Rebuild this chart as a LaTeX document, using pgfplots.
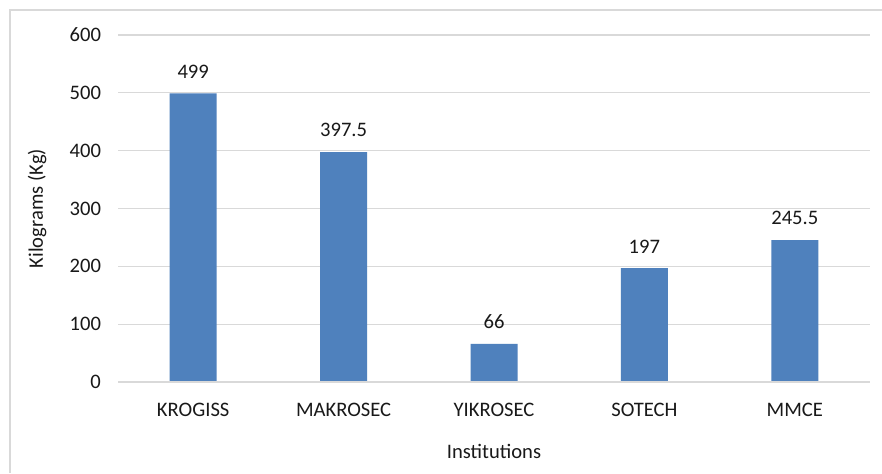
\documentclass[border=0pt]{standalone}
\usepackage{pgfplots}
\pgfplotsset{compat=1.18}
\usepackage{fontspec}
\setmainfont{Carlito}
\definecolor{barblue}{HTML}{4F81BD}
\definecolor{gridgray}{HTML}{D9D9D9}
\definecolor{framegray}{HTML}{D9D9D9}
\begin{document}
\begin{tikzpicture}[x=0.5pt,y=0.5pt]
\useasboundingbox (0,0) rectangle (882,473);
\fill[white] (0,0) rectangle (882,473);
\draw[framegray,line width=0.6pt] (10,0) -- (10,463) -- (882,463);
\begin{axis}[
  at={(118*0.5pt,91*0.5pt)}, anchor=south west,
  scale only axis, width=376pt, height=173.5pt,
  ymin=0, ymax=600, ytick={0,100,...,600},
  xmin=-0.5, xmax=4.5,
  xtick=data,
  xticklabels={KROGISS,MAKROSEC,YIKROSEC,SOTECH,MMCE},
  ybar, bar width=23.5pt,
  axis line style={draw=none},
  axis x line*=bottom,
  ymajorgrids, grid style={gridgray,line width=0.6pt},
  major tick length=0pt,
  /pgf/number format/assume math mode=true,
  tick label style={font=\fontsize{10.3}{12}\selectfont, text=black!90},
  yticklabel style={xshift=-5pt},
  xticklabel style={yshift=-7pt},
  xlabel={Institutions}, ylabel={Kilograms (Kg)},
  label style={font=\fontsize{10.3}{12}\selectfont, text=black!90},
  xlabel style={yshift=-7pt},
  ylabel style={at={(axis description cs:-0.1077,0.5)}, anchor=center},
  nodes near coords,
  nodes near coords style={font=\fontsize{10.3}{12}\selectfont, text=black!90, yshift=4pt},
  point meta=explicit symbolic,
  clip=false,
]
\addplot[fill=barblue, draw=none] coordinates {
  (0,499) [499]
  (1,397.5) [397.5]
  (2,66) [66]
  (3,197) [197]
  (4,245.5) [245.5]
};
\draw[gridgray,line width=0.6pt] (axis cs:-0.5,0) -- (axis cs:4.5,0);
\end{axis}
\end{tikzpicture}
\end{document}
